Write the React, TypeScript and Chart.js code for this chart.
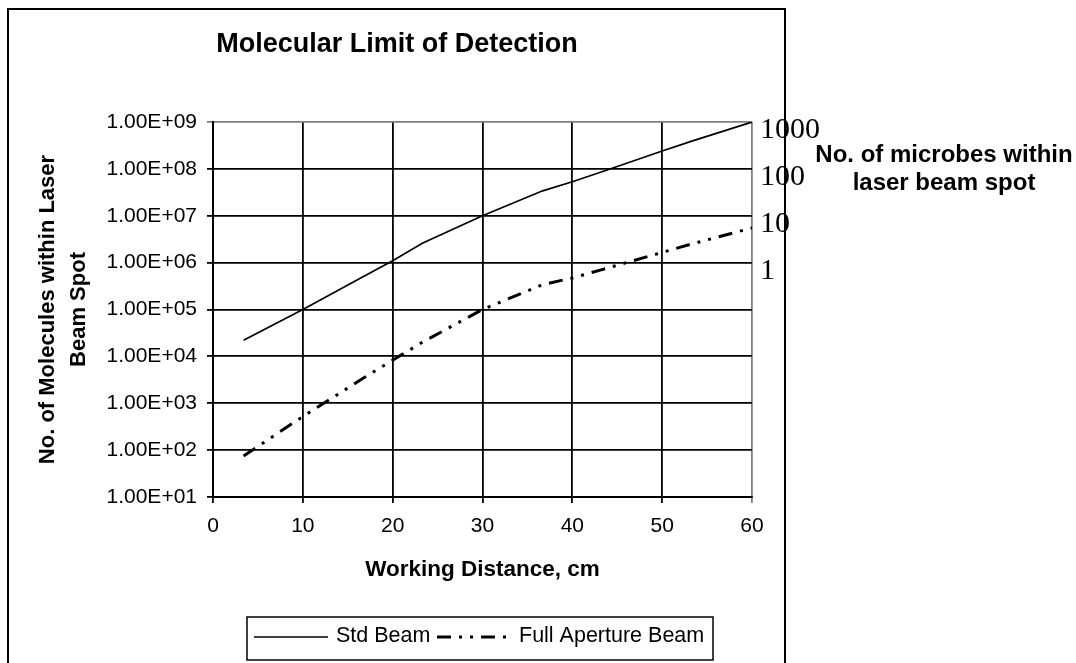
import React, { useEffect, useRef } from "react";
import { Chart, registerables } from "chart.js";

Chart.register(...registerables);

// ---- data ----
const workingDistance = [3.4, 10, 16.7, 20, 23.3, 30, 36.7, 40, 43.3, 50, 53.3, 60];
const stdBeam = [2.2e4, 1.0e5, 5.0e5, 1.1e6, 2.6e6, 1.0e7, 3.4e7, 5.3e7, 8.7e7, 2.4e8, 3.9e8, 1.0e9];
const fullApertureBeam = [75, 520, 3.4e3, 8.3e3, 2.0e4, 1.0e5, 3.4e5, 4.7e5, 7.1e5, 1.65e6, 2.5e6, 5.5e6];
const seriesNames = ["Std Beam", "Full Aperture Beam"];

const xTickValues = [0, 10, 20, 30, 40, 50, 60];
const leftTickValues = [1e1, 1e2, 1e3, 1e4, 1e5, 1e6, 1e7, 1e8, 1e9];
const leftTickLabels = ["1.00E+01", "1.00E+02", "1.00E+03", "1.00E+04", "1.00E+05", "1.00E+06", "1.00E+07", "1.00E+08", "1.00E+09"];
const rightTickValues = [1, 10, 100, 1000];
const rightTickLabels = ["1", "10", "100", "1000"];

const chartTitle = "Molecular Limit of Detection";
const xTitle = "Working Distance, cm";
const leftTitle = ["No. of Molecules within Laser", "Beam Spot"];
const rightTitle = ["No. of microbes within", "laser beam spot"];

const SANS = '"Liberation Sans", Arial, sans-serif';
const SERIF = '"Liberation Serif", "Times New Roman", serif';
const GRAY = "#808080";

const decorPlugin = {
  id: "decor",
  afterDraw(chart: any) {
    const ctx = chart.ctx as CanvasRenderingContext2D;
    ctx.save();
    // outer chart border
    ctx.strokeStyle = "#000";
    ctx.lineWidth = 2;
    ctx.strokeRect(8, 9, 777, 700);

    // main title
    ctx.fillStyle = "#000";
    ctx.textAlign = "center";
    ctx.textBaseline = "middle";
    ctx.font = `bold 27px ${SANS}`;
    ctx.fillText(chartTitle, 397, 45);

    // right-hand axis title
    ctx.font = `bold 24px ${SANS}`;
    ctx.fillText(rightTitle[0], 944, 155);
    ctx.fillText(rightTitle[1], 944, 183);

    // legend
    ctx.lineWidth = 1.5;
    ctx.strokeStyle = "#000";
    ctx.strokeRect(247, 617, 466, 43);
    const ly = 637;
    const ds = chart.data.datasets;
    const sampleX = [254, 437];
    const textX = [336, 519];
    ctx.font = `21.5px ${SANS}`;
    ctx.textAlign = "left";
    for (let i = 0; i < ds.length; i++) {
      ctx.save();
      ctx.strokeStyle = ds[i].borderColor;
      ctx.lineWidth = ds[i].borderWidth;
      ctx.setLineDash(ds[i].borderDash || []);
      ctx.beginPath();
      ctx.moveTo(sampleX[i], ly);
      ctx.lineTo(sampleX[i] + 74, ly);
      ctx.stroke();
      ctx.restore();
      ctx.fillText(ds[i].label, textX[i], ly - 1);
    }
    ctx.restore();
  },
};

export default function App() {
  const canvasRef = useRef<HTMLCanvasElement | null>(null);

  useEffect(() => {
    if (!canvasRef.current) return;
    const toPoints = (ys: number[]) => workingDistance.map((x, i) => ({ x, y: ys[i] }));
    const chart = new Chart(canvasRef.current, {
      type: "line",
      data: {
        datasets: [
          {
            label: seriesNames[0],
            data: toPoints(stdBeam),
            borderColor: "#000",
            borderWidth: 1.7,
            pointRadius: 0,
            tension: 0,
            fill: false,
            yAxisID: "y",
          },
          {
            label: seriesNames[1],
            data: toPoints(fullApertureBeam),
            borderColor: "#000",
            borderWidth: 3,
            borderDash: [14, 8, 3, 8, 3, 8],
            pointRadius: 0,
            tension: 0,
            fill: false,
            yAxisID: "y",
          },
        ],
      },
      options: {
        responsive: false,
        animation: false,
        layout: { padding: { left: 0, top: 122, right: 0, bottom: 0 } },
        plugins: {
          legend: { display: false },
          title: { display: false },
          tooltip: { enabled: false },
        },
        scales: {
          x: {
            type: "linear",
            position: "bottom",
            min: 0,
            max: 60,
            afterBuildTicks: (s: any) => {
              s.ticks = xTickValues.map((v) => ({ value: v }));
            },
            ticks: {
              font: { family: SANS, size: 21 },
              color: "#000",
              padding: 11,
              maxRotation: 0,
              autoSkip: false,
            },
            grid: {
              color: (c: any) => (c.tick && c.tick.value === 60 ? GRAY : "#000"),
              lineWidth: 1.8,
              tickLength: 6,
            },
            border: { color: "#000", width: 2 },
            title: {
              display: true,
              text: xTitle,
              color: "#000",
              font: { family: SANS, size: 22.5, weight: "bold" },
              padding: { top: 0, bottom: 80 },
            },
            afterFit: (s: any) => {
              s.height = 166;
            },
          },
          y: {
            type: "logarithmic",
            position: "left",
            min: 10,
            max: 1e9,
            afterBuildTicks: (s: any) => {
              s.ticks = leftTickValues.map((v) => ({ value: v }));
            },
            ticks: {
              callback: (_v: any, i: number) => leftTickLabels[i],
              font: { family: SANS, size: 21 },
              color: "#000",
              padding: 10,
              autoSkip: false,
            },
            grid: {
              color: (c: any) => (c.tick && c.tick.value === 1e9 ? GRAY : "#000"),
              lineWidth: 1.8,
              tickLength: 6,
            },
            border: { color: "#000", width: 2 },
            title: {
              display: true,
              text: leftTitle,
              color: "#000",
              font: { family: SANS, size: 22, weight: "bold", lineHeight: 1.4 },
              padding: { top: 33, bottom: 0 },
            },
            afterFit: (s: any) => {
              s.width = 213;
            },
          },
          y2: {
            type: "logarithmic",
            position: "right",
            min: 1e-5,
            max: 1e3,
            afterBuildTicks: (s: any) => {
              s.ticks = rightTickValues.map((v) => ({ value: v }));
            },
            ticks: {
              callback: (_v: any, i: number) => rightTickLabels[i],
              font: { family: SERIF, size: 30 },
              color: "#000",
              padding: 8,
              labelOffset: 8,
              autoSkip: false,
            },
            grid: { display: false, drawTicks: false, tickLength: 0 },
            border: { display: false },
            afterFit: (s: any) => {
              s.width = 324;
            },
          },
        },
      } as any,
      plugins: [decorPlugin],
    });
    return () => chart.destroy();
  }, []);

  return (
    <div style={{ position: "absolute", left: 0, top: 0, width: 1076, height: 663, background: "#fff" }}>
      <canvas ref={canvasRef} width={1076} height={663} style={{ display: "block" }} />
    </div>
  );
}
